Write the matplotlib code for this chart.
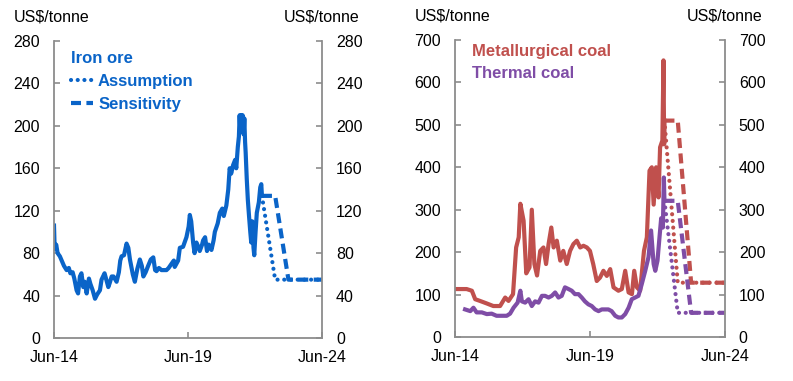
import matplotlib
matplotlib.use("Agg")
import matplotlib.pyplot as plt
import matplotlib.dates as mdates
from matplotlib.lines import Line2D
import pandas as pd

plt.rcParams['font.family'] = ['Liberation Sans', 'DejaVu Sans']
plt.rcParams['font.size'] = 11

BLUE = '#0A64C8'
RED = '#C0504D'
PURPLE = '#7F4DA6'
GREY = '#8C8C8C'

# ---- iron ore (US$/tonne) ----
iron_dates = [
    '2014-06-01', '2014-06-10', '2014-07-01', '2014-07-20', '2014-08-20', '2014-09-20',
    '2014-10-15', '2014-11-20', '2014-12-20', '2015-01-10', '2015-02-10', '2015-03-05',
    '2015-04-05', '2015-04-25', '2015-05-20', '2015-06-10', '2015-07-05', '2015-07-25',
    '2015-08-20', '2015-09-20', '2015-10-10', '2015-11-10', '2015-12-12', '2016-01-10',
    '2016-02-17', '2016-03-10', '2016-04-20', '2016-05-10', '2016-06-10', '2016-06-30',
    '2016-07-26', '2016-08-20', '2016-10-01', '2016-11-01', '2016-11-20', '2016-12-08',
    '2017-01-10', '2017-02-14', '2017-03-10', '2017-04-01', '2017-05-10', '2017-06-07',
    '2017-07-10', '2017-08-14', '2017-09-10', '2017-10-01', '2017-11-01', '2017-12-05',
    '2018-01-10', '2018-02-13', '2018-03-10', '2018-03-29', '2018-05-01', '2018-06-05',
    '2018-07-10', '2018-08-12', '2018-09-10', '2018-10-20', '2018-11-20', '2018-12-02',
    '2019-01-18', '2019-02-10', '2019-03-26', '2019-05-11', '2019-06-10', '2019-06-26',
    '2019-07-15', '2019-08-10', '2019-08-30', '2019-09-24', '2019-10-20', '2019-11-08',
    '2019-12-10', '2019-12-24', '2020-01-20', '2020-02-15', '2020-03-10', '2020-04-16',
    '2020-05-15', '2020-06-01', '2020-07-10', '2020-08-08', '2020-09-10', '2020-10-01',
    '2020-11-05', '2020-12-01', '2020-12-20', '2021-01-10', '2021-02-05', '2021-03-05',
    '2021-03-20', '2021-04-10', '2021-04-25', '2021-05-05', '2021-05-15', '2021-05-25',
    '2021-06-05', '2021-06-15', '2021-06-28', '2021-07-08', '2021-07-18', '2021-07-26',
    '2021-08-10', '2021-08-25', '2021-09-10',
    '2021-09-27', '2021-10-10', '2021-10-24', '2021-11-10', '2021-11-20', '2021-12-08',
    '2021-12-25', '2022-01-22', '2022-02-10', '2022-02-24', '2022-03-05',
]
iron_vals = [
    106, 84, 88, 80, 77, 72,
    68, 64, 66, 61, 62, 56,
    45, 42, 58, 61, 48, 53,
    42, 56, 51, 45, 37, 41,
    45, 55, 61, 56, 48, 52,
    58, 58, 53, 62, 73, 77,
    78, 89, 85, 74, 60, 53,
    65, 74, 68, 58, 62, 68,
    74, 76, 64, 63, 66, 64,
    64, 64, 66, 70, 73, 67,
    73, 85, 86, 95, 105, 116,
    110, 90, 80, 90, 86, 82,
    88, 92, 95, 82, 88, 83,
    92, 100, 108, 118, 122, 115,
    125, 140, 160, 155, 163, 168,
    160, 180, 190, 210, 195, 210,
    200, 210, 192, 207, 185, 175,
    150, 130, 115,
    100, 90, 110, 85, 78, 100,
    118, 128, 142, 145, 134,
]
iron_assump_dates = ['2022-03-05', '2022-09-01', '2024-06-01']
iron_assump_vals = [134, 55, 55]
iron_sens_dates = ['2022-03-05', '2022-09-01', '2023-03-01', '2024-06-01']
iron_sens_vals = [134, 134, 55, 55]

# ---- metallurgical coal (US$/tonne) ----
met_dates = [
    '2014-06-01', '2014-11-05', '2015-01-15', '2015-03-01', '2015-05-05', '2015-08-05',
    '2015-11-01', '2016-02-01', '2016-04-10', '2016-05-25', '2016-07-25', '2016-09-05',
    '2016-10-10', '2016-11-01', '2016-12-15', '2017-01-20', '2017-03-05', '2017-04-05',
    '2017-05-10', '2017-06-15', '2017-07-28', '2017-09-10', '2017-10-15', '2017-11-18',
    '2017-12-25', '2018-01-25', '2018-03-10', '2018-04-25', '2018-06-05', '2018-07-22',
    '2018-09-05', '2018-10-20', '2018-12-05', '2019-01-20', '2019-03-05', '2019-04-20',
    '2019-06-01', '2019-07-15', '2019-09-01', '2019-10-15', '2019-11-30', '2020-01-15',
    '2020-03-01', '2020-04-15', '2020-06-20', '2020-08-05', '2020-09-20', '2020-11-05',
    '2020-12-20', '2021-01-20', '2021-02-25', '2021-04-10', '2021-06-01', '2021-07-10',
    '2021-08-15', '2021-09-15', '2021-10-10', '2021-11-12', '2021-12-15', '2022-01-05',
    '2022-02-05', '2022-02-20', '2022-03-01', '2022-03-05',
]
met_vals = [
    113, 113, 109, 89, 85, 79,
    73, 73, 93, 85, 101, 211,
    235, 314, 274, 150, 164, 300,
    172, 145, 203, 211, 172, 219,
    258, 211, 227, 180, 203, 172,
    203, 219, 227, 211, 215, 211,
    203, 172, 132, 140, 156, 144,
    160, 117, 109, 113, 156, 105,
    101, 156, 117, 109, 203, 235,
    392, 400, 312, 400, 329, 447,
    463, 652, 454, 510,
]
met_assump_dates = ['2022-03-05', '2022-09-01', '2024-06-01']
met_assump_vals = [510, 128, 128]
met_sens_dates = ['2022-03-05', '2022-09-01', '2023-03-01', '2024-06-01']
met_sens_vals = [510, 510, 128, 128]

# ---- thermal coal (US$/tonne) ----
thermal_dates = [
    '2014-10-15', '2014-12-25', '2015-02-05', '2015-03-20', '2015-05-30', '2015-08-05',
    '2015-10-10', '2015-12-15', '2016-02-25', '2016-05-01', '2016-06-15', '2016-08-01',
    '2016-09-25', '2016-11-01', '2016-11-22', '2017-01-05', '2017-02-20', '2017-04-05',
    '2017-05-20', '2017-07-05', '2017-08-20', '2017-10-01', '2017-11-18', '2018-01-01',
    '2018-02-15', '2018-04-01', '2018-05-15', '2018-06-28', '2018-08-15', '2018-09-28',
    '2018-11-10', '2018-12-28', '2019-02-10', '2019-03-25', '2019-05-10', '2019-06-25',
    '2019-08-10', '2019-09-25', '2019-11-08', '2019-12-25', '2020-02-05', '2020-03-20',
    '2020-05-08', '2020-06-20', '2020-08-05', '2020-09-20', '2020-11-05', '2020-12-18',
    '2021-02-01', '2021-03-18', '2021-05-01', '2021-06-18', '2021-08-01', '2021-09-05',
    '2021-10-10', '2021-11-01', '2021-12-01', '2021-12-28', '2022-01-20', '2022-02-12',
    '2022-02-25', '2022-03-05',
]
thermal_vals = [
    65, 61, 69, 58, 58, 54,
    55, 50, 50, 50, 55, 69,
    81, 109, 84, 81, 89, 73,
    84, 81, 97, 97, 93, 97,
    105, 93, 97, 117, 113, 109,
    101, 101, 93, 84, 77, 73,
    65, 61, 65, 65, 65, 61,
    50, 46, 46, 54, 69, 89,
    93, 97, 124, 156, 188, 251,
    172, 156, 180, 235, 280, 258,
    376, 321,
]
thermal_assump_dates = ['2022-03-05', '2022-09-01', '2024-06-01']
thermal_assump_vals = [321, 57, 57]
thermal_sens_dates = ['2022-03-05', '2022-09-01', '2023-03-01', '2024-06-01']
thermal_sens_vals = [321, 321, 57, 57]

LW = 3.0
DOT = (0, (0.01, 1.6))
DASH = (0, (2.4, 1.3))


def style_axes(ax, ymax, ystep):
    ax.set_xlim(pd.Timestamp('2014-06-01'), pd.Timestamp('2024-06-01'))
    ax.set_ylim(0, ymax)
    ax.set_yticks(range(0, ymax + 1, ystep))
    ax.set_xticks(pd.to_datetime(['2014-06-01', '2019-06-01', '2024-06-01']))
    ax.xaxis.set_major_formatter(mdates.DateFormatter('%b-%y'))
    ax.spines['top'].set_visible(False)
    for s in ['left', 'right', 'bottom']:
        ax.spines[s].set_color(GREY)
        ax.spines[s].set_linewidth(1.3)
    ax.tick_params(axis='y', direction='in', length=4, width=1.2, color=GREY,
                   left=True, right=True, labelleft=True, labelright=True, pad=10,
                   labelsize=11.5)
    ax.tick_params(axis='x', direction='in', length=4, width=1.2, color=GREY,
                   pad=9, labelsize=11.5)
    ax.text(-0.01, 1.08, 'US$/tonne', transform=ax.transAxes, ha='center', va='center',
            fontsize=11.5)
    ax.text(1.0, 1.08, 'US$/tonne', transform=ax.transAxes, ha='center', va='center',
            fontsize=11.5)


fig = plt.figure(figsize=(7.93, 3.81), dpi=100)
ax1 = fig.add_axes([0.0681, 0.1129, 0.338, 0.7795])
ax2 = fig.add_axes([0.5738, 0.1155, 0.3404, 0.7795])

# left panel: iron ore
ax1.plot(pd.to_datetime(iron_dates), iron_vals, color=BLUE, lw=LW, solid_joinstyle='round')
ax1.plot(pd.to_datetime(iron_assump_dates), iron_assump_vals, color=BLUE, lw=LW,
         linestyle=DOT, dash_capstyle='round')
ax1.plot(pd.to_datetime(iron_sens_dates), iron_sens_vals, color=BLUE, lw=LW,
         linestyle=DASH)
style_axes(ax1, 280, 40)

handles = [Line2D([], [], color=BLUE, lw=LW, linestyle=DOT, dash_capstyle='round'),
           Line2D([], [], color=BLUE, lw=LW, linestyle=DASH)]
leg = ax1.legend(handles, ['Assumption', 'Sensitivity'], title='Iron ore',
                 loc='upper left', bbox_to_anchor=(0.04, 0.99), frameon=False,
                 handlelength=1.3, handletextpad=0.3, labelspacing=0.5,
                 borderaxespad=0, labelcolor=BLUE,
                 prop={'weight': 'bold', 'size': 12},
                 title_fontproperties={'weight': 'bold', 'size': 12},
                 alignment='left')
leg.get_title().set_color(BLUE)

# right panel: coal
ax2.plot(pd.to_datetime(met_dates), met_vals, color=RED, lw=LW, solid_joinstyle='round',
         label='Metallurgical coal')
ax2.plot(pd.to_datetime(thermal_dates), thermal_vals, color=PURPLE, lw=LW,
         solid_joinstyle='round', label='Thermal coal')
ax2.plot(pd.to_datetime(met_assump_dates), met_assump_vals, color=RED, lw=LW,
         linestyle=DOT, dash_capstyle='round')
ax2.plot(pd.to_datetime(met_sens_dates), met_sens_vals, color=RED, lw=LW, linestyle=DASH)
ax2.plot(pd.to_datetime(thermal_assump_dates), thermal_assump_vals, color=PURPLE, lw=LW,
         linestyle=DOT, dash_capstyle='round')
ax2.plot(pd.to_datetime(thermal_sens_dates), thermal_sens_vals, color=PURPLE, lw=LW,
         linestyle=DASH)
style_axes(ax2, 700, 100)

leg2 = ax2.legend(loc='upper left', bbox_to_anchor=(0.04, 1.01), frameon=False,
                  handlelength=0, handletextpad=0, labelspacing=0.45, borderaxespad=0,
                  labelcolor='linecolor', prop={'weight': 'bold', 'size': 12})
for h in leg2.legend_handles:
    h.set_visible(False)

fig.savefig('out.png', dpi=100)
